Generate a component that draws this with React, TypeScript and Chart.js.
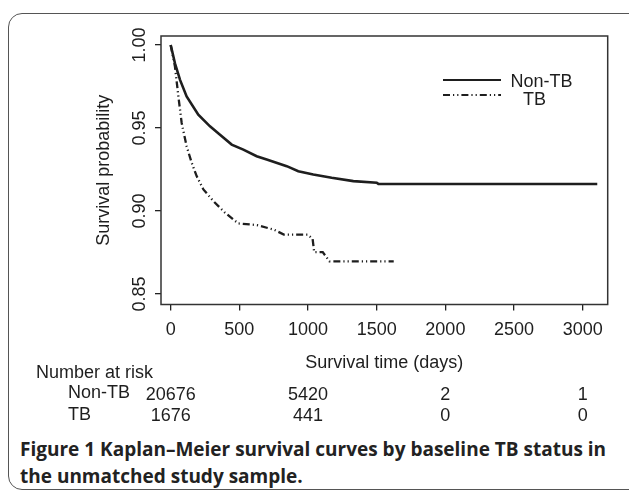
import React, { useEffect, useRef } from "react";
import { Chart, registerables } from "chart.js";

Chart.register(...registerables);

// ---- data ----
const nonTbDays = [0, 31, 68, 116, 201, 286, 359, 444, 529, 626, 699, 845, 929, 1038, 1172, 1330, 1500, 1512, 3106];
const nonTbSurv = [1.0, 0.989, 0.979, 0.969, 0.958, 0.951, 0.946, 0.94, 0.937, 0.933, 0.931, 0.927, 0.924, 0.922, 0.92, 0.918, 0.917, 0.9163, 0.9163];

const tbDays = [0, 31, 56, 80, 116, 153, 189, 238, 310, 395, 492, 628, 750, 824, 996, 1033, 1045, 1107, 1156, 1624];
const tbSurv = [1.0, 0.987, 0.969, 0.953, 0.939, 0.929, 0.921, 0.913, 0.906, 0.899, 0.8925, 0.8915, 0.8888, 0.8858, 0.8858, 0.8833, 0.8752, 0.8752, 0.8697, 0.8697];

const seriesLabels = ["Non-TB", "TB"];
const xTicks = [0, 500, 1000, 1500, 2000, 2500, 3000];
const yTicks = [0.85, 0.9, 0.95, 1.0];
const riskTimes = [0, 1000, 2000, 3000];
const riskNonTb = [20676, 5420, 2, 1];
const riskTb = [1676, 441, 0, 0];
const riskTitle = "Number at risk";
const xTitle = "Survival time (days)";
const yTitle = "Survival probability";

const FONT = "'Liberation Sans', Arial, Helvetica, sans-serif";
const INK = "#1e1e1e";
const TB_DASH = [7, 3, 1.2, 3, 1.2, 3];

const extras = {
  id: "extras",
  afterDraw(chart: any) {
    const { ctx, chartArea: a, scales } = chart;
    const xs = scales.x;
    ctx.save();
    // full box
    ctx.strokeStyle = "#333";
    ctx.lineWidth = 1.5;
    ctx.strokeRect(a.left, a.top, a.right - a.left, a.bottom - a.top);

    // legend
    ctx.strokeStyle = INK;
    ctx.lineWidth = 2.2;
    ctx.beginPath();
    ctx.moveTo(443, 80);
    ctx.lineTo(501, 80);
    ctx.stroke();
    ctx.setLineDash(TB_DASH);
    ctx.beginPath();
    ctx.moveTo(443, 95);
    ctx.lineTo(501, 95);
    ctx.stroke();
    ctx.setLineDash([]);
    ctx.fillStyle = INK;
    ctx.font = `18px ${FONT}`;
    ctx.textBaseline = "middle";
    ctx.textAlign = "left";
    ctx.fillText(seriesLabels[0], 510.5, 82);
    ctx.fillText(seriesLabels[1], 523, 100);

    // number at risk table
    ctx.fillText(riskTitle, 36, 373);
    ctx.fillText(seriesLabels[0], 68, 393);
    ctx.fillText(seriesLabels[1], 68, 415);
    ctx.textAlign = "center";
    riskTimes.forEach((t, i) => {
      const px = xs.getPixelForValue(t);
      ctx.fillText(String(riskNonTb[i]), px, 395);
      ctx.fillText(String(riskTb[i]), px, 416);
    });
    ctx.restore();
  },
};

export default function App() {
  const ref = useRef<HTMLCanvasElement | null>(null);

  useEffect(() => {
    if (!ref.current) return;
    const chart = new Chart(ref.current, {
      type: "line",
      data: {
        datasets: [
          {
            label: seriesLabels[0],
            data: nonTbDays.map((d, i) => ({ x: d, y: nonTbSurv[i] })),
            borderColor: INK,
            borderWidth: 2.6,
            pointRadius: 0,
            fill: false,
            tension: 0,
          },
          {
            label: seriesLabels[1],
            data: tbDays.map((d, i) => ({ x: d, y: tbSurv[i] })),
            borderColor: INK,
            borderWidth: 2.3,
            borderDash: TB_DASH,
            pointRadius: 0,
            fill: false,
            tension: 0,
          },
        ],
      },
      options: {
        animation: false,
        responsive: false,
        layout: { padding: { left: 0, top: 36, right: 21.3, bottom: 55.5 } },
        plugins: { legend: { display: false }, tooltip: { enabled: false } },
        scales: {
          x: {
            type: "linear",
            min: -70.6,
            max: 3182,
            afterBuildTicks: (s: any) => {
              s.ticks = xTicks.map((v) => ({ value: v }));
            },
            afterFit: (s: any) => {
              s.height = 70;
            },
            grid: {
              display: true,
              drawOnChartArea: false,
              drawTicks: true,
              tickLength: 6,
              color: "#222",
              lineWidth: 1.3,
            },
            border: { display: false },
            ticks: {
              font: { family: FONT, size: 18 },
              color: INK,
              padding: 8.7,
              maxRotation: 0,
              autoSkip: false,
              callback: (v: any) => String(v),
            },
            title: {
              display: true,
              text: xTitle,
              font: { family: FONT, size: 18 },
              color: INK,
              padding: { top: 0, bottom: 1 },
            },
          },
          y: {
            type: "linear",
            min: 0.84367,
            max: 1.00542,
            afterBuildTicks: (s: any) => {
              s.ticks = yTicks.map((v) => ({ value: v }));
            },
            afterFit: (s: any) => {
              s.width = 161;
            },
            grid: {
              display: true,
              drawOnChartArea: false,
              drawTicks: true,
              tickLength: 6,
              color: "#222",
              lineWidth: 1.3,
            },
            border: { display: false },
            ticks: {
              font: { family: FONT, size: 18 },
              color: INK,
              padding: -2.5,
              minRotation: 90,
              maxRotation: 90,
              crossAlign: "center",
              autoSkip: false,
              callback: (v: any) => Number(v).toFixed(2),
            },
            title: {
              display: true,
              text: yTitle,
              font: { family: FONT, size: 18 },
              color: INK,
              padding: { top: 93.2, bottom: 0 },
            },
          },
        },
      },
      plugins: [extras],
    });
    return () => chart.destroy();
  }, []);

  return (
    <div
      style={{
        position: "fixed",
        left: 0,
        top: 0,
        width: 629,
        height: 495,
        overflow: "hidden",
        background: "#fff",
      }}
    >
      <div
        style={{
          position: "absolute",
          left: 8,
          top: 13,
          width: 660,
          height: 477,
          border: "1.5px solid #555",
          borderRadius: 14,
          boxSizing: "border-box",
        }}
      />
      <canvas
        ref={ref}
        width={629}
        height={430}
        style={{ position: "absolute", left: 0, top: 0, width: 629, height: 430 }}
      />
      <div
        style={{
          position: "absolute",
          left: 20,
          top: 436,
          fontFamily: "'Open Sans', 'Noto Sans', sans-serif",
          fontWeight: 700,
          fontSize: 19,
          lineHeight: "27px",
          color: "#222",
          whiteSpace: "nowrap",
        }}
      >
        Figure 1 Kaplan–Meier survival curves by baseline TB status in
        <br />
        the unmatched study sample.
      </div>
    </div>
  );
}
